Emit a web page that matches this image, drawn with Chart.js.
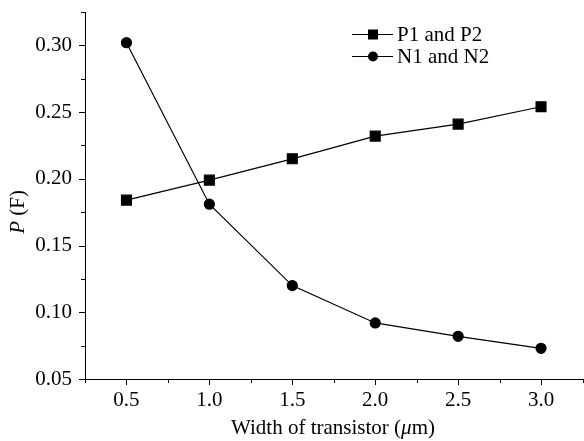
<!DOCTYPE html>
<html>
<head>
<meta charset="utf-8">
<script src="https://cdn.jsdelivr.net/npm/chart.js@4/dist/chart.umd.min.js"></script>
<style>
html,body{margin:0;padding:0;background:#fff;}
#wrap{width:584px;height:441px;position:relative;}
</style>
</head>
<body>
<div id="wrap"><canvas id="c" width="584" height="441"></canvas></div>
<script>
const widths = [0.5, 1.0, 1.5, 2.0, 2.5, 3.0];
const pValues = [0.184, 0.199, 0.215, 0.232, 0.241, 0.254];
const nValues = [0.302, 0.181, 0.120, 0.092, 0.082, 0.073];
const seriesLabels = ['P1 and P2', 'N1 and N2'];
const xTickLabels = ['0.5', '1.0', '1.5', '2.0', '2.5', '3.0'];
const yTickLabels = ['0.05', '0.10', '0.15', '0.20', '0.25', '0.30'];
const xTitleParts = [['Width of transistor (', false], ['\u03bc', true], ['m)', false]];
const yTitleParts = [['P', true], [' (F)', false]];

const FONT = '"Liberation Serif", "Times New Roman", serif';
const FS = 21;

const ticksPlugin = {
  id: 'customTicks',
  afterDraw(chart) {
    const ctx = chart.ctx;
    const xs = chart.scales.x, ys = chart.scales.y;
    const area = chart.chartArea;
    ctx.save();
    ctx.strokeStyle = '#000';
    ctx.lineWidth = 1;
    for (let v = 0.25; v <= 3.2501; v += 0.25) {
      const px = Math.round(xs.getPixelForValue(v)) + 0.5;
      const major = Math.abs(v / 0.5 - Math.round(v / 0.5)) < 1e-6;
      ctx.beginPath();
      ctx.moveTo(px, area.bottom);
      ctx.lineTo(px, area.bottom + (major ? 6 : 4));
      ctx.stroke();
    }
    for (let v = 0.05; v <= 0.32501; v += 0.025) {
      const py = Math.round(ys.getPixelForValue(v)) + 0.5;
      const major = Math.abs(v / 0.05 - Math.round(v / 0.05)) < 1e-6;
      ctx.beginPath();
      ctx.moveTo(area.left, py);
      ctx.lineTo(area.left - (major ? 6 : 4), py);
      ctx.stroke();
    }
    ctx.fillStyle = '#000';
    ctx.textBaseline = 'alphabetic';
    const fontOf = it => (it ? 'italic ' : '') + FS + 'px ' + FONT;
    let total = 0;
    xTitleParts.forEach(([t, it]) => { ctx.font = fontOf(it); total += ctx.measureText(t).width; });
    let x = 333 - total / 2;
    xTitleParts.forEach(([t, it]) => { ctx.font = fontOf(it); ctx.fillText(t, x, 434); x += ctx.measureText(t).width; });
    total = 0;
    yTitleParts.forEach(([t, it]) => { ctx.font = fontOf(it); total += ctx.measureText(t).width; });
    ctx.save();
    ctx.translate(24, 212);
    ctx.rotate(-Math.PI / 2);
    let y = -total / 2;
    yTitleParts.forEach(([t, it]) => { ctx.font = fontOf(it); ctx.fillText(t, y, 0); y += ctx.measureText(t).width; });
    ctx.restore();
    const ds = chart.data.datasets;
    const rows = [34, 56];
    ds.forEach((d, i) => {
      const ly = rows[i] + 0.5;
      ctx.strokeStyle = '#000';
      ctx.lineWidth = 1;
      ctx.beginPath(); ctx.moveTo(352, ly); ctx.lineTo(393, ly); ctx.stroke();
      ctx.fillStyle = '#000';
      if (d.pointStyle === 'rect') {
        ctx.fillRect(368, ly - 5, 10, 10);
      } else {
        ctx.beginPath(); ctx.arc(373, ly, 5, 0, Math.PI * 2); ctx.fill();
      }
      ctx.font = FS + 'px ' + FONT;
      ctx.textBaseline = 'middle';
      ctx.fillText(d.label, 397, ly + 1);
    });
    ctx.restore();
  }
};

new Chart(document.getElementById('c'), {
  type: 'line',
  data: {
    datasets: [
      {
        label: seriesLabels[0],
        data: widths.map((w, i) => ({x: w, y: pValues[i]})),
        borderColor: '#000', backgroundColor: '#000', borderWidth: 1.2,
        pointStyle: 'rect', pointRadius: 7, pointHoverRadius: 7, tension: 0
      },
      {
        label: seriesLabels[1],
        data: widths.map((w, i) => ({x: w, y: nValues[i]})),
        borderColor: '#000', backgroundColor: '#000', borderWidth: 1.2,
        pointStyle: 'circle', pointRadius: 5, pointHoverRadius: 5, tension: 0
      }
    ]
  },
  options: {
    responsive: false,
    animation: false,
    events: [],
    layout: {autoPadding: false, padding: {left: 0, right: 1.5, top: 12, bottom: 0}},
    plugins: {legend: {display: false}, tooltip: {enabled: false}},
    scales: {
      x: {
        type: 'linear', min: 0.25, max: 3.25,
        afterBuildTicks: s => { s.ticks = widths.map(v => ({value: v})); },
        afterFit: s => { s.height = 62; s.paddingLeft = 0; s.paddingRight = 0; },
        grid: {display: false, drawTicks: false},
        border: {display: true, color: '#000', width: 1},
        ticks: {
          color: '#000', padding: 9, maxRotation: 0,
          font: {family: FONT, size: FS},
          callback: (v, i) => xTickLabels[i]
        }
      },
      y: {
        type: 'linear', min: 0.05, max: 0.325,
        afterBuildTicks: s => { s.ticks = yTickLabels.map(t => ({value: parseFloat(t)})); },
        afterFit: s => { s.width = 85; s.paddingTop = 0; s.paddingBottom = 0; },
        grid: {display: false, drawTicks: false},
        border: {display: true, color: '#000', width: 1},
        ticks: {
          color: '#000', padding: 13,
          font: {family: FONT, size: FS},
          callback: (v, i) => yTickLabels[i]
        }
      }
    }
  },
  plugins: [ticksPlugin]
});
</script>
</body>
</html>
